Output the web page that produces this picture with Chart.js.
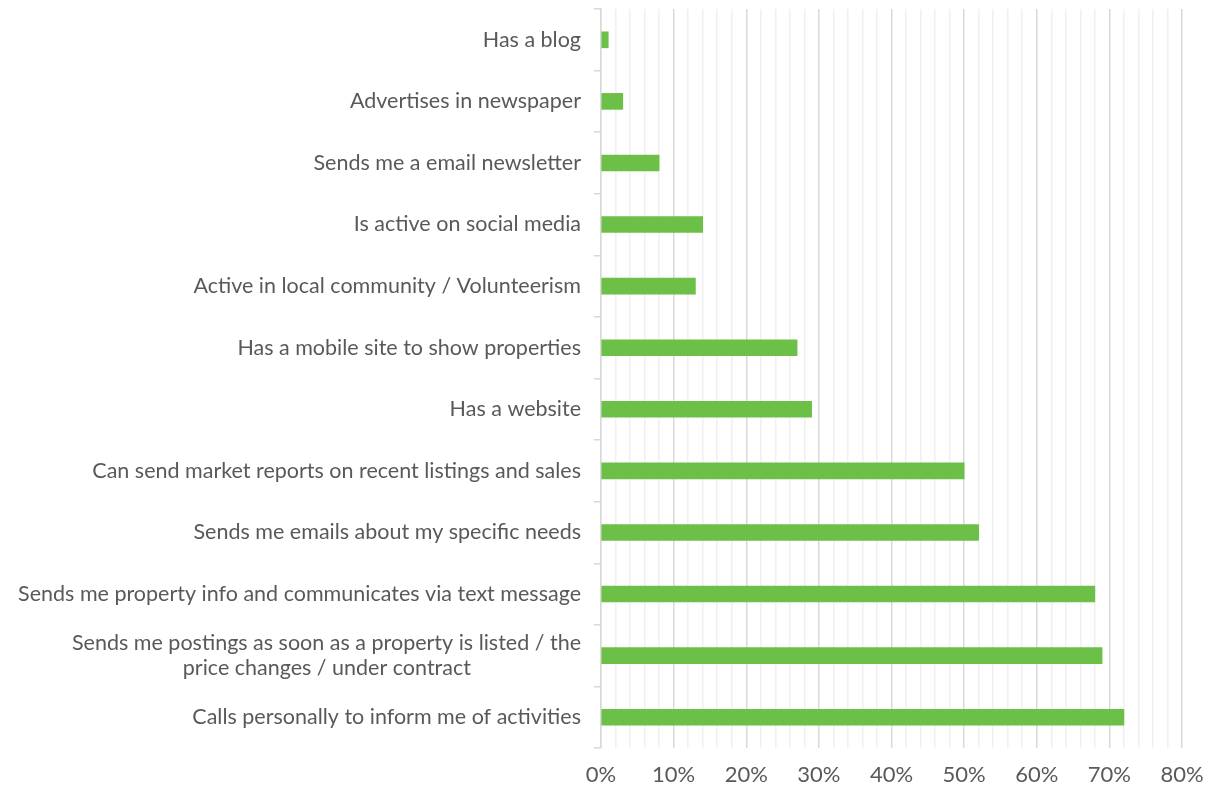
<!DOCTYPE html>
<html>
<head>
<meta charset="utf-8">
<script src="https://cdn.jsdelivr.net/npm/chart.js@4"></script>
<style>
html,body{margin:0;padding:0;background:#fff;}
#wrap{width:1211px;height:789px;}
</style>
</head>
<body>
<div id="wrap"><canvas id="barChart" width="1211" height="789"></canvas></div>
<script>
const categories = [
'Has a blog',
'Advertises in newspaper',
'Sends me a email newsletter',
'Is active on social media',
'Active in local community / Volunteerism',
'Has a mobile site to show properties',
'Has a website',
'Can send market reports on recent listings and sales',
'Sends me emails about my specific needs',
'Sends me property info and communicates via text message',
['Sends me postings as soon as a property is listed / the', 'price changes / under contract'],
'Calls personally to inform me of activities'
];

const shares = [1, 3, 8, 14, 13, 27, 29, 50, 52, 68, 69, 72];

const tickLabels = ['0%','10%','20%','30%','40%','50%','60%','70%','80%'];

const labelFont = '21.5px Lato';

// right-aligned labels, but wrapped lines centred under the longest one
const measure = document.createElement('canvas').getContext('2d');
measure.font = labelFont;

function centreLines(label){
if(!Array.isArray(label)) return label;
const widths = label.map(t => measure.measureText(t).width);
const maxW = Math.max(...widths);
const sp = measure.measureText(' ').width;
return label.map((t,i) => t + ' '.repeat(Math.round((maxW - widths[i]) / 2 / sp)));
}

const ctx = document.getElementById('barChart').getContext('2d');

new Chart(ctx,{
type:'bar',
data:{
labels:categories,
datasets:[{
data:shares,
backgroundColor:'#6cbf47',
barThickness:16
}]
},
options:{
indexAxis:'y',
responsive:false,
animation:false,
layout:{padding:{top:9,right:29,bottom:0,left:0}},
plugins:{
legend:{display:false},
tooltip:{enabled:false}
},
scales:{
x:{
min:0,
max:80,
ticks:{
stepSize:2,
autoSkip:false,
maxRotation:0,
color:'#595959',
font:{family:'Lato',size:22},
padding:14,
callback:v => v % 10 === 0 ? tickLabels[v/10] : ''
},
grid:{
color:c => (c.tick && c.tick.value % 10 === 0) ? '#d9d9d9' : '#f0f0f0',
lineWidth:1.5,
drawTicks:false
},
border:{display:false},
afterFit:s => { s.height = 41; s.paddingLeft = 0; s.paddingRight = 0; }
},
y:{
ticks:{
color:'#595959',
font:{family:'Lato',size:21.5},
padding:13,
callback:function(v){ return centreLines(categories[v]); }
},
grid:{
offset:true,
drawOnChartArea:false,
tickLength:7,
color:'#d9d9d9',
lineWidth:1.5
},
border:{color:'#d9d9d9',width:1.5},
afterFit:s => { s.width = 601; s.paddingTop = 0; s.paddingBottom = 0; }
}
}
}
});
</script>
</body>
</html>
